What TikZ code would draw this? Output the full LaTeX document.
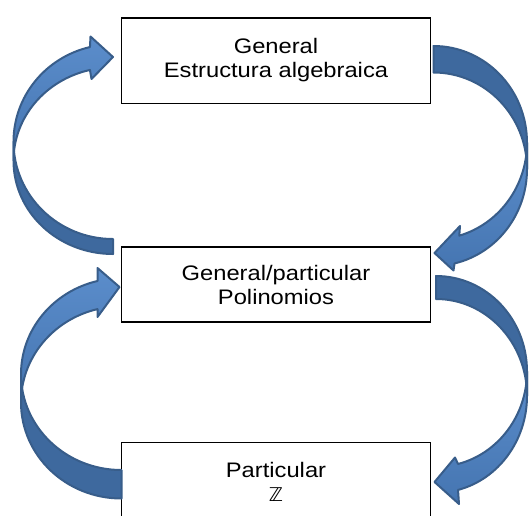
\documentclass[tikz,border=0pt]{standalone}
\usepackage{fontspec}
\usepackage{xcolor}
\setmainfont{Liberation Sans}[FakeStretch=1.13]
\newfontfamily\zfont{DejaVu Sans}
\definecolor{bendline}{HTML}{385D8A}
\definecolor{bendback}{HTML}{3E699E}
\definecolor{bendlight}{HTML}{5B8DCB}
\definecolor{benddark}{HTML}{4575B1}

\begin{document}
\begin{tikzpicture}[x=1pt,y=-1pt]
        \tikzset{box/.style={draw,line width=1.5pt,minimum width=309pt,align=center,
                font=\fontsize{21}{24}\selectfont},
            backpart/.style={draw=bendline,line width=2pt,line join=round,fill=bendback},
            frontpart/.style={draw=bendline,line width=2pt,line join=round,
                top color=bendlight,bottom color=benddark}}
        \path[use as bounding box] (0,0) rectangle (529,515);
        \clip (0,0) rectangle (529,515);
        \node[box,minimum height=85.5pt] (general) at (276,60.5) {General\\Estructura algebraica};
        \node[box,minimum height=75pt] (polin) at (276,284.6) {General/particular\\Polinomios};
        \node[box,minimum height=79pt] (integ) at (276,482) {Particular\\{\zfont\fontsize{19}{24}\selectfont ℤ}};
        \path[backpart] (113,239) arc[start angle=90,end angle=180,x radius=99.5,y radius=97.3]
            -- (13.5,160.7) arc[start angle=180,end angle=90,x radius=99.5,y radius=93.3] -- cycle;
        \path[frontpart] (89.95,47.05) arc[start angle=256.6,end angle=180,x radius=99.5,y radius=97.3]
            -- (13.5,160.7) arc[start angle=180,end angle=256.6,x radius=99.5,y radius=93.3]
            -- (91.5,79) -- (113,57) -- (90.5,36.5) -- cycle;
        \path[backpart] (121.5,470) arc[start angle=90,end angle=180,x radius=100.5,y radius=95.9]
            -- (21,402.4) arc[start angle=180,end angle=90,x radius=100.5,y radius=96.1] -- cycle;
        \path[frontpart] (97.53,280.97) arc[start angle=256.2,end angle=180,x radius=100.5,y radius=95.9]
            -- (21,402.4) arc[start angle=180,end angle=256.2,x radius=100.5,y radius=96.1]
            -- (97.5,317) -- (119.5,287) -- (97.5,268) -- cycle;
        \path[backpart] (433.5,72.5) arc[start angle=270,end angle=360,x radius=93.5,y radius=96.7]
            -- (527,142.7) arc[start angle=360,end angle=270,x radius=93.5,y radius=96.7] -- cycle;
        \path[frontpart] (459.27,235.66) arc[start angle=74,end angle=0,x radius=93.5,y radius=96.7]
            -- (527,169.2) arc[start angle=0,end angle=77,x radius=93.5,y radius=96.7]
            -- (453.5,270.5) -- (434.5,253) -- (460,226) -- cycle;
        \path[backpart] (436,299) arc[start angle=270,end angle=360,x radius=91,y radius=96.9]
            -- (527,371.4) arc[start angle=360,end angle=270,x radius=91,y radius=95.4] -- cycle;
        \path[frontpart] (458.01,463.97) arc[start angle=76,end angle=0,x radius=91,y radius=95.4]
            -- (527,395.9) arc[start angle=0,end angle=76,x radius=91,y radius=96.9]
            -- (459,504) -- (434.5,482) -- (455,457.5) -- cycle;
\end{tikzpicture}
\end{document}
